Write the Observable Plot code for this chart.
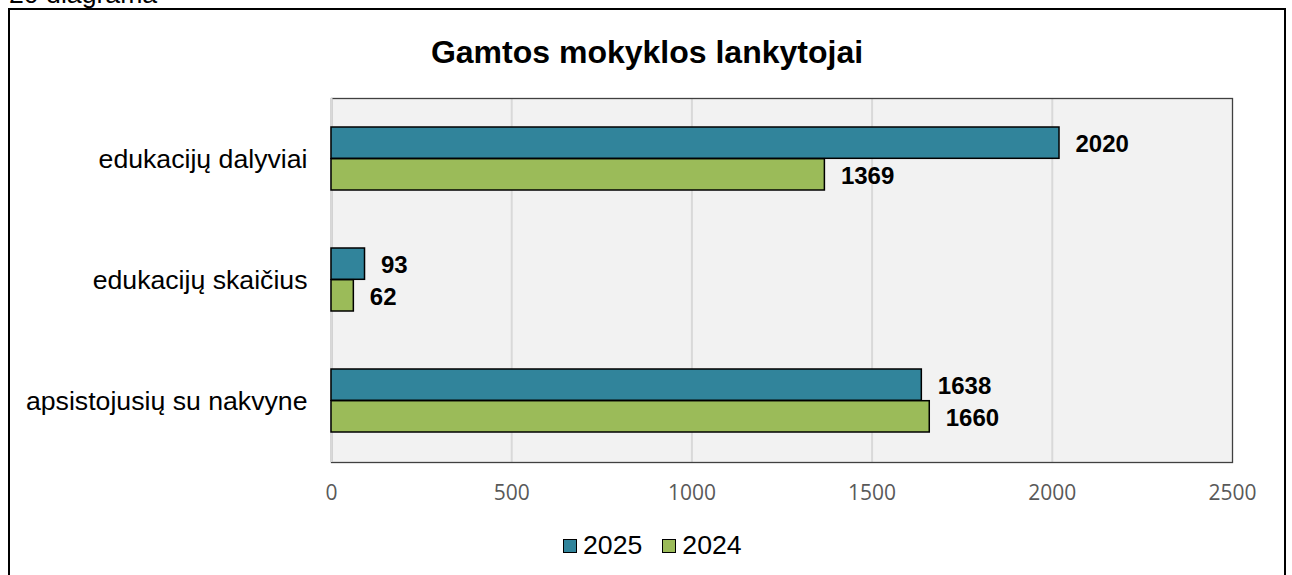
<!DOCTYPE html>
<html>
<head>
<meta charset="utf-8">
<script src="https://cdn.jsdelivr.net/npm/d3@7"></script>
<script src="https://cdn.jsdelivr.net/npm/@observablehq/plot@0.6"></script>
<style>
  html, body { margin: 0; padding: 0; background: #fff; overflow: hidden; }
  #wrap { position: relative; width: 1292px; height: 575px; overflow: hidden; font-family: "Liberation Sans", Arial, sans-serif; }
  #caption { position: absolute; left: 9px; top: -18.6px; font-size: 26.67px; line-height: 1; color: #000; white-space: nowrap; }
  #box { position: absolute; left: 8px; top: 8px; width: 1278px; height: 620px; border: 2px solid #000; box-sizing: border-box; pointer-events: none; z-index: 5; }
  #title { position: absolute; left: 8px; width: 1278px; top: 36.4px; text-align: center; font-size: 32px; font-weight: bold; line-height: 1; color: #000; }
  #chart { position: absolute; left: 0; top: 85px; }
  #chart svg { background: transparent; }
  #legend { position: absolute; left: 563px; top: 532.4px; display: flex; align-items: center; font-size: 26.67px; line-height: 1; color: #000; }
  .sw { width: 14px; height: 14px; box-sizing: border-box; border: 1.5px solid #000; margin-right: 6px; }
  .item { display: flex; align-items: center; margin-right: 20px; }
  g[aria-label="x-axis tick label"] text { font-family: "Open Sans", sans-serif; }
</style>
</head>
<body>
<div id="wrap">
  <div id="caption">20 diagrama</div>
  <div id="box"></div>
  <div id="title">Gamtos mokyklos lankytojai</div>
  <div id="chart"></div>
  <div id="legend"></div>
</div>
<script>
const categories = ["edukacijų dalyviai", "edukacijų skaičius", "apsistojusių su nakvyne"];
const seriesNames = ["2025", "2024"];
const values2025 = [2020, 93, 1638];
const values2024 = [1369, 62, 1660];
const xTicks = [0, 500, 1000, 1500, 2000, 2500];
const seriesColors = ["#31849B", "#9BBB59"];

const data2025 = categories.map((c, i) => ({category: c, value: values2025[i], series: seriesNames[0]}));
const data2024 = categories.map((c, i) => ({category: c, value: values2024[i], series: seriesNames[1]}));

const W = 1292, H = 435;
const mTop = 13, mBottom = 58, mLeft = 331, mRight = 60;
const padInner = 0.4775;
const step = (H - mTop - mBottom) / categories.length;
const bw = step * (1 - padInner);
const half = bw / 2;

const chart = Plot.plot({
  width: W,
  height: H,
  marginTop: mTop,
  marginBottom: mBottom,
  marginLeft: mLeft,
  marginRight: mRight,
  style: {fontFamily: "'Liberation Sans', Arial, sans-serif", background: "transparent", overflow: "visible"},
  x: {domain: [0, 2500], axis: null},
  y: {domain: categories, paddingInner: padInner, paddingOuter: padInner / 2, axis: null},
  marks: [
    Plot.frame({fill: "#f2f2f2", stroke: "none"}),
    Plot.gridX(xTicks.slice(0, -1), {stroke: "#d9d9d9", strokeOpacity: 1, strokeWidth: 2}),
    Plot.frame({fill: "none", stroke: "#404040", strokeWidth: 1.3}),
    Plot.ruleX([0], {stroke: "#d9d9d9", strokeWidth: 2}),
    Plot.axisY({tickSize: 0, tickPadding: 24, fontSize: 26.67, fill: "#000", label: null}),
    Plot.axisX({ticks: xTicks, tickSize: 0, tickPadding: 23, fontSize: 21, fill: "#595959", tickFormat: d => String(d), label: null, fontFamily: "Open Sans"}),
    Plot.barX(data2025, {x: "value", y: "category", fill: seriesColors[0], stroke: "#000", strokeWidth: 1.5, insetBottom: half}),
    Plot.barX(data2024, {x: "value", y: "category", fill: seriesColors[1], stroke: "#000", strokeWidth: 1.5, insetTop: half}),
    Plot.text(data2025, {x: "value", y: "category", text: d => String(d.value), dx: 16, dy: -half / 2 + 1, textAnchor: "start", fontWeight: "bold", fontSize: 24, fill: "#000"}),
    Plot.text(data2024, {x: "value", y: "category", text: d => String(d.value), dx: 16, dy: half / 2 + 1, textAnchor: "start", fontWeight: "bold", fontSize: 24, fill: "#000"})
  ]
});
document.getElementById("chart").appendChild(chart);

const legend = document.getElementById("legend");
seriesNames.forEach((s, i) => {
  const item = document.createElement("div");
  item.className = "item";
  const sw = document.createElement("div");
  sw.className = "sw";
  sw.style.background = seriesColors[i];
  const t = document.createElement("span");
  t.textContent = s;
  item.appendChild(sw);
  item.appendChild(t);
  legend.appendChild(item);
});
</script>
</body>
</html>
